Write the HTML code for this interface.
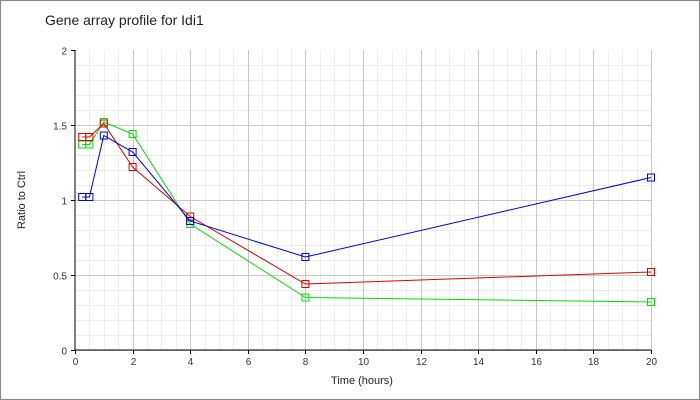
<!DOCTYPE html>
<html><head><style>body{margin:0;background:#fff}svg{display:block}</style></head><body>
<svg width="700" height="400" xmlns="http://www.w3.org/2000/svg" font-family="Liberation Sans, sans-serif">
<rect x="0.5" y="0.5" width="699" height="399" fill="#fff" stroke="#888"/>
<text x="45" y="25" font-size="14" fill="#222">Gene array profile for Idi1</text>
<g id="minor" stroke="#ececec" stroke-width="1"></g>
<g id="major" stroke="#c8c8c8" stroke-width="1"></g>
<line x1="75" y1="50" x2="75" y2="350" stroke="#000"/>
<line x1="75" y1="350" x2="651" y2="350" stroke="#000"/>
<g id="ticks" stroke="#000"></g>
<g id="labels" font-size="10" fill="#333"></g>
<text x="362" y="384" font-size="11" text-anchor="middle" fill="#222">Time (hours)</text>
<text transform="translate(25,200) rotate(-90)" font-size="11" text-anchor="middle" fill="#222">Ratio to Ctrl</text>
<g id="series"></g>
</svg>
<script>
const ns="http://www.w3.org/2000/svg";
function el(p,t,a){const e=document.createElementNS(ns,t);for(const k in a)e.setAttribute(k,a[k]);p.appendChild(e);return e;}
const X=v=>75+v*28.8,Y=v=>350-v*150;
const mi=document.getElementById('minor'),ma=document.getElementById('major'),tk=document.getElementById('ticks'),lb=document.getElementById('labels');
for(let i=1;i<=40;i++){const x=Math.round(X(i*0.5))+0.5;el(i%4?mi:ma,'line',{x1:x,y1:50,x2:x,y2:350});}
for(let i=0;i<20;i++){const y=Math.round(Y(i*0.1))+0.5;el(i%5?mi:ma,'line',{x1:75,y1:y,x2:651,y2:y});}
for(let i=0;i<=10;i++){const x=Math.round(X(i*2))+0.5;el(tk,'line',{x1:x,y1:350,x2:x,y2:354});const t=el(lb,'text',{x:x,y:365,'text-anchor':'middle'});t.textContent=i*2;}
for(let i=0;i<=4;i++){const y=Math.round(Y(i*0.5))+0.5;el(tk,'line',{x1:71,y1:y,x2:75,y2:y});const t=el(lb,'text',{x:67,y:y+4,'text-anchor':'end'});t.textContent=[0,0.5,1,1.5,2][i];}
const xs=[0.25,0.5,1,2,4,8,20];
const S=[["#00e000",[1.37,1.37,1.52,1.44,0.84,0.35,0.32]],["#e00000",[1.42,1.42,1.51,1.22,0.89,0.44,0.52]],["#0000e0",[1.02,1.02,1.43,1.32,0.86,0.62,1.15]]];
const g=document.getElementById('series');
for(const [c,v] of S){el(g,'polyline',{points:xs.map((x,i)=>X(x)+','+Y(v[i])).join(' '),fill:'none',stroke:c,'stroke-width':1});
for(let i=0;i<7;i++)el(g,'rect',{x:X(xs[i])-3.5,y:Y(v[i])-3.5,width:7,height:7,fill:'none',stroke:c});}
</script>
</body></html>
